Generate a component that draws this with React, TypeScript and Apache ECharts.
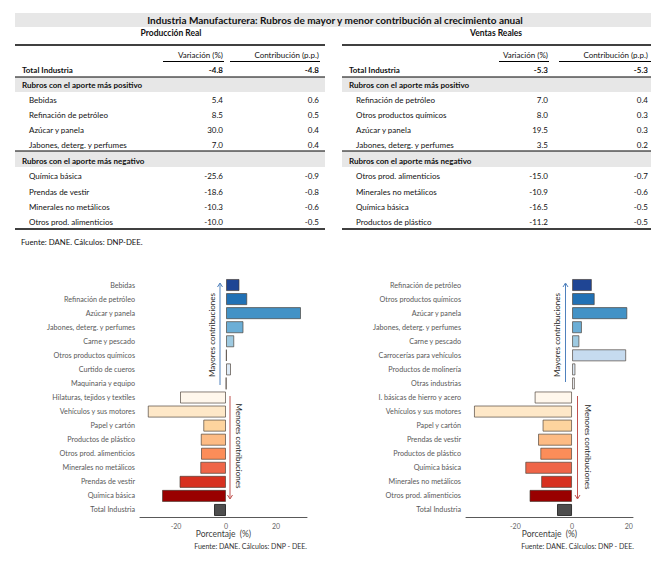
import React, { useEffect, useRef } from "react";
import * as echarts from "echarts";

// ---------- Table data ----------
const tableTitle = "Industria Manufacturera: Rubros de mayor y menor contribución al crecimiento anual";
const colHeaders = ["Variación (%)", "Contribución (p.p.)"];
const totalLabel = "Total Industria";
const posBandLabel = "Rubros con el aporte más positivo";
const negBandLabel = "Rubros con el aporte más negativo";
const tableSource = "Fuente: DANE. Cálculos: DNP-DEE.";

const prTitle = "Producción Real";
const prTotal = [-4.8, -4.8];
const prPosNames = ["Bebidas", "Refinación de petróleo", "Azúcar y panela", "Jabones, deterg. y perfumes"];
const prPosVar = [5.4, 8.5, 30.0, 7.0];
const prPosCon = [0.6, 0.5, 0.4, 0.4];
const prNegNames = ["Química básica", "Prendas de vestir", "Minerales no metálicos", "Otros prod. alimenticios"];
const prNegVar = [-25.6, -18.6, -10.3, -10.0];
const prNegCon = [-0.9, -0.8, -0.6, -0.5];

const vrTitle = "Ventas Reales";
const vrTotal = [-5.3, -5.3];
const vrPosNames = ["Refinación de petróleo", "Otros productos químicos", "Azúcar y panela", "Jabones, deterg. y perfumes"];
const vrPosVar = [7.0, 8.0, 19.5, 3.5];
const vrPosCon = [0.4, 0.3, 0.3, 0.2];
const vrNegNames = ["Otros prod. alimenticios", "Minerales no metálicos", "Química básica", "Productos de plástico"];
const vrNegVar = [-15.0, -10.9, -16.5, -11.2];
const vrNegCon = [-0.7, -0.6, -0.5, -0.5];

// ---------- Chart data ----------
const prCategories = [
  "Bebidas", "Refinación de petróleo", "Azúcar y panela", "Jabones, deterg. y perfumes",
  "Carne y pescado", "Otros productos químicos", "Curtido de cueros", "Maquinaria y equipo",
  "Hilaturas, tejidos y textiles", "Vehículos y sus motores", "Papel y cartón", "Productos de plástico",
  "Otros prod. alimenticios", "Minerales no metálicos", "Prendas de vestir", "Química básica", "Total Industria",
];
const prValues = [5.4, 8.5, 30.0, 7.0, 3.3, 0.3, 2.0, 0.1, -18.4, -31.3, -9.1, -10.1, -10.0, -10.3, -18.6, -25.6, -4.8];

const vrCategories = [
  "Refinación de petróleo", "Otros productos químicos", "Azúcar y panela", "Jabones, deterg. y perfumes",
  "Carne y pescado", "Carrocerías para vehículos", "Productos de molinería", "Otras industrias",
  "I. básicas de hierro y acero", "Vehículos y sus motores", "Papel y cartón", "Prendas de vestir",
  "Productos de plástico", "Química básica", "Minerales no metálicos", "Otros prod. alimenticios", "Total Industria",
];
const vrValues = [7.0, 8.0, 19.5, 3.5, 2.6, 19.1, 1.2, 1.0, -13.2, -34.6, -10.4, -12.0, -11.2, -16.5, -10.9, -15.0, -5.3];

const tickStep = 20;
const axisName = "Porcentaje  (%)";
const chartSource = "Fuente: DANE. Cálculos: DNP - DEE.";
const upLabel = "Mayores contribuciones";
const downLabel = "Menores contribuciones";

// ---------- Styles ----------
const barPalette = [
  "#1f4594", "#2171b5", "#4292c6", "#6baed6", "#9ecae1", "#c6dbef", "#deebf7", "#f7fbff",
  "#fff7ec", "#fee8c8", "#fdd49e", "#fdbb84", "#fc8d59", "#ef6548", "#d7301f", "#990000", "#4d4d4d",
];
const FONT = "Lato, 'Open Sans', sans-serif";
const TXT = "#111";
const BAND = "#e7e7e7";

function fmt(v: number) {
  return v.toFixed(1);
}

function text(x: number, y: number, t: string, opts: any = {}) {
  return {
    type: "text",
    x,
    y,
    silent: true,
    z: 10,
    style: {
      text: t,
      fill: opts.fill || TXT,
      fontSize: opts.size || 8,
      fontFamily: FONT,
      fontWeight: opts.bold ? "bold" : "normal",
      align: opts.align || "left",
      verticalAlign: "middle",
    },
  };
}
function hline(x1: number, x2: number, y: number, w = 1, c = "#000") {
  return { type: "line", silent: true, z: 5, shape: { x1, y1: y, x2, y2: y }, style: { stroke: c, lineWidth: w } };
}
function rect(x: number, y: number, w: number, h: number, c: string) {
  return { type: "rect", silent: true, z: 1, shape: { x, y, width: w, height: h }, style: { fill: c } };
}

function buildTable(
  x0: number, x1: number, ttl: string, titleX: number, varX: number, conX: number, ulVar: number[], ulCon: number[],
  total: number[], posN: string[], posV: number[], posC: number[], negN: string[], negV: number[], negC: number[]
) {
  const els: any[] = [];
  const tx = x0 + 7;
  const ix = x0 + 14;
  els.push(rect(x0, 77, x1 - x0, 15, BAND));
  els.push(rect(x0, 151, x1 - x0, 16, BAND));
  els.push(text(titleX, 33, ttl, { bold: true, align: "center", size: 8.5 }));
  els.push(hline(x0, x1, 45, 1.5));
  els.push(text(varX, 55, colHeaders[0], { align: "right" }));
  els.push(text(conX, 55, colHeaders[1], { align: "right" }));
  els.push(hline(ulVar[0], ulVar[1], 61.5, 1));
  els.push(hline(ulCon[0], ulCon[1], 61.5, 1));
  els.push(text(tx, 70, totalLabel, { bold: true }));
  els.push(text(varX, 70, fmt(total[0]), { bold: true, align: "right" }));
  els.push(text(conX, 70, fmt(total[1]), { bold: true, align: "right" }));
  els.push(hline(x0, x1, 77, 1));
  els.push(text(tx, 85, posBandLabel, { bold: true }));
  const posY = [100, 115.3, 130.3, 145.3];
  posN.forEach((n, i) => {
    els.push(text(ix, posY[i], n));
    els.push(text(varX, posY[i], fmt(posV[i]), { align: "right" }));
    els.push(text(conX, posY[i], fmt(posC[i]), { align: "right" }));
  });
  els.push(hline(x0, x1, 151, 1));
  els.push(text(tx, 160.5, negBandLabel, { bold: true }));
  const negY = [176, 191.5, 206.7, 222];
  negN.forEach((n, i) => {
    els.push(text(ix, negY[i], n));
    els.push(text(varX, negY[i], fmt(negV[i]), { align: "right" }));
    els.push(text(conX, negY[i], fmt(negC[i]), { align: "right" }));
  });
  els.push(hline(x0, x1, 229, 1.5));
  return els;
}

function arrow(x: number, yFrom: number, yTo: number, color: string) {
  const dir = yTo < yFrom ? -1 : 1;
  return [
    { type: "line", silent: true, z: 5, shape: { x1: x, y1: yFrom, x2: x, y2: yTo - dir * 1 }, style: { stroke: color, lineWidth: 1 } },
    {
      type: "polyline",
      silent: true,
      z: 5,
      shape: { points: [[x - 2.5, yTo - dir * 4], [x, yTo], [x + 2.5, yTo - dir * 4]] },
      style: { stroke: color, lineWidth: 1, fill: "none" },
    },
  ];
}
function vtext(x: number, y: number, t: string, rot: number) {
  return {
    type: "text",
    x,
    y,
    rotation: rot,
    silent: true,
    z: 10,
    style: { text: t, fill: "#262626", fontSize: 8, fontFamily: FONT, align: "center", verticalAlign: "middle" },
  };
}

function makeSeries(values: number[], idx: number) {
  return {
    type: "bar",
    xAxisIndex: idx,
    yAxisIndex: idx,
    barCategoryGap: "14%",
    silent: true,
    data: values.map((v, i) => ({
      value: v,
      itemStyle: { color: barPalette[i], borderColor: i === values.length - 1 ? "#333" : "rgba(70,60,50,0.65)", borderWidth: 1 },
    })),
  };
}

function xAxisCfg(idx: number, min: number, max: number) {
  return {
    type: "value",
    gridIndex: idx,
    min,
    max,
    splitNumber: 3,
    axisLine: { show: true, onZero: false, lineStyle: { color: "#595959", width: 1 } },
    axisTick: { show: false },
    splitLine: { show: false },
    axisLabel: {
      color: "#666",
      fontSize: 7,
      fontFamily: FONT,
      margin: 5,
      formatter: (v: number) => (Math.abs(v % tickStep) < 1e-9 ? String(v) : ""),
    },
    name: axisName,
    nameLocation: "middle",
    nameGap: 11,
    nameTextStyle: { color: "#404040", fontSize: 8.5, fontFamily: FONT },
  };
}
function yAxisCfg(idx: number, cats: string[]) {
  return {
    type: "category",
    gridIndex: idx,
    data: cats,
    inverse: true,
    axisLine: { show: false },
    axisTick: { show: false },
    axisLabel: { color: "#595959", fontSize: 7.2, fontFamily: FONT, margin: 5 },
  };
}

export default function App() {
  const ref = useRef<HTMLDivElement>(null);
  useEffect(() => {
    if (!ref.current) return;
    const chart = echarts.init(ref.current, undefined, { renderer: "svg" });
    const graphic: any[] = [
      rect(15, 13, 636, 14, BAND),
      text(335, 20, tableTitle, { bold: true, size: 10, align: "center" }),
      ...buildTable(15, 325, prTitle, 171, 223, 319, [163, 224], [230, 320],
        prTotal, prPosNames, prPosVar, prPosCon, prNegNames, prNegVar, prNegCon),
      ...buildTable(342, 651, vrTitle, 496, 548, 648, [499, 549], [559, 651],
        vrTotal, vrPosNames, vrPosVar, vrPosCon, vrNegNames, vrNegVar, vrNegCon),
      text(21, 241.5, tableSource, { size: 7.8 }),
      // annotations left chart
      ...arrow(220, 385, 283, "#4f81bd"),
      vtext(212, 335, upLabel, Math.PI / 2),
      ...arrow(230, 396, 499, "#c0504d"),
      vtext(238.5, 446, downLabel, -Math.PI / 2),
      // annotations right chart
      ...arrow(565.5, 382, 283, "#4f81bd"),
      vtext(556.5, 335, upLabel, Math.PI / 2),
      ...arrow(577.5, 396, 499, "#c0504d"),
      vtext(588, 447, downLabel, -Math.PI / 2),
      text(307, 545.5, chartSource, { size: 7, align: "right", fill: "#333" }),
      text(634, 545.5, chartSource, { size: 7, align: "right", fill: "#333" }),
    ];
    chart.setOption({
      animation: false,
      backgroundColor: "#fff",
      grid: [
        { left: 140, top: 278, width: 167, height: 239, containLabel: false },
        { left: 466, top: 278, width: 167, height: 239, containLabel: false },
      ],
      xAxis: [xAxisCfg(0, -34.4, 32.4), xAxisCfg(1, -37.4, 21.5)],
      yAxis: [yAxisCfg(0, prCategories), yAxisCfg(1, vrCategories)],
      series: [makeSeries(prValues, 0), makeSeries(vrValues, 1)],
      graphic,
    });
    return () => chart.dispose();
  }, []);
  return <div ref={ref} style={{ position: "absolute", left: 0, top: 0, width: 672, height: 563, background: "#fff" }} />;
}
